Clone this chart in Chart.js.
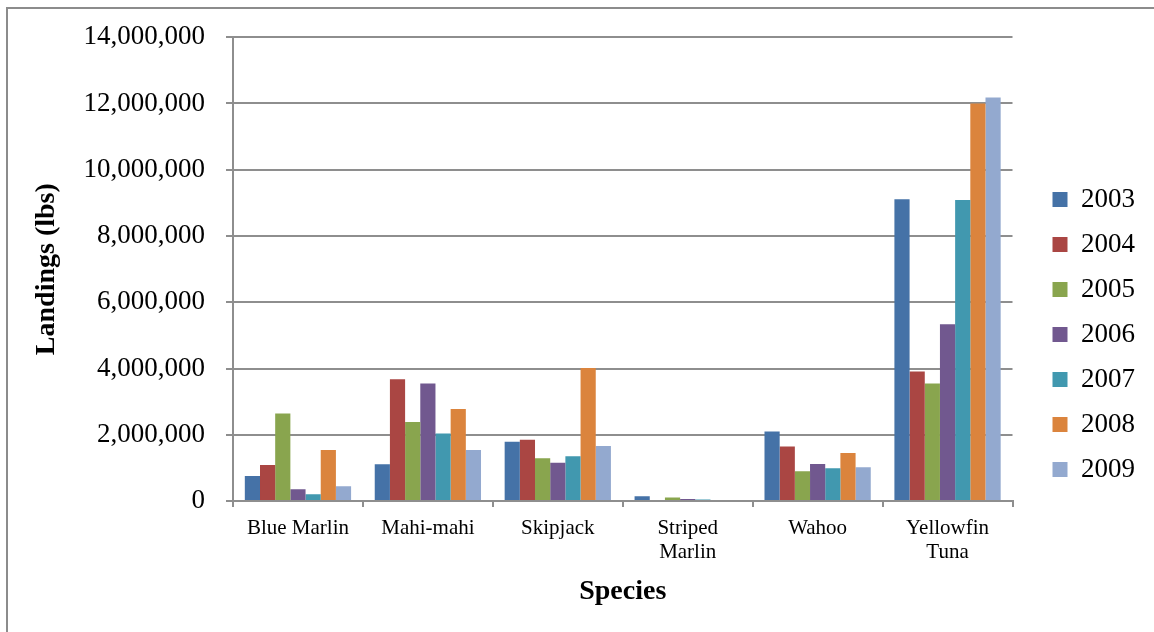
<!DOCTYPE html>
<html>
<head>
<meta charset="utf-8">
<script src="https://cdn.jsdelivr.net/npm/chart.js@4.4.1/dist/chart.umd.min.js"></script>
<style>
  html, body { margin: 0; padding: 0; background: #ffffff; }
  #wrap { width: 1154px; height: 632px; position: relative; }
</style>
</head>
<body>
<div id="wrap"><canvas id="c" width="1154" height="632"></canvas></div>
<script>
// ---- data ----
const species = ['Blue Marlin', 'Mahi-mahi', 'Skipjack', ['Striped', 'Marlin'], 'Wahoo', ['Yellowfin', 'Tuna']];
const years = ['2003', '2004', '2005', '2006', '2007', '2008', '2009'];
const y2003 = [760000, 1110000, 1790000, 150000, 2100000, 9110000];
const y2004 = [1090000, 3680000, 1850000, 30000, 1650000, 3910000];
const y2005 = [2640000, 2390000, 1290000, 110000, 900000, 3550000];
const y2006 = [360000, 3550000, 1160000, 60000, 1120000, 5340000];
const y2007 = [210000, 2040000, 1350000, 50000, 990000, 9090000];
const y2008 = [1540000, 2780000, 4020000, 0, 1450000, 12000000];
const y2009 = [450000, 1540000, 1660000, 0, 1020000, 12180000];
const yTicks = [0, 2000000, 4000000, 6000000, 8000000, 10000000, 12000000, 14000000];
const xTitle = 'Species';
const yTitle = 'Landings (lbs)';

const seriesValues = [y2003, y2004, y2005, y2006, y2007, y2008, y2009];
const colors = ['#4572A7', '#AA4643', '#89A54E', '#71588F', '#4198AF', '#DB843D', '#93A9CF'];

const FONT = "'Liberation Serif', 'Times New Roman', serif";
const GRID = '#8e8e8e';

const frame = {
  id: 'frame',
  beforeDraw(chart) {
    const ctx = chart.ctx;
    ctx.save();
    ctx.fillStyle = '#ffffff';
    ctx.fillRect(0, 0, chart.width, chart.height);
    ctx.strokeStyle = '#8c8c8c';
    ctx.lineWidth = 2;
    ctx.beginPath();
    ctx.moveTo(7, chart.height);
    ctx.lineTo(7, 8);
    ctx.lineTo(chart.width, 8);
    ctx.stroke();
    ctx.restore();
  }
};

new Chart(document.getElementById('c'), {
  type: 'bar',
  data: {
    labels: species,
    datasets: years.map((y, i) => ({
      label: y,
      data: seriesValues[i],
      backgroundColor: colors[i],
      borderWidth: 0,
      categoryPercentage: 0.818,
      barPercentage: 1.0
    }))
  },
  options: {
    responsive: false,
    animation: false,
    devicePixelRatio: 1,
    layout: { padding: { left: 30, top: 37, right: 9, bottom: 23 } },
    plugins: {
      legend: {
        position: 'right',
        align: 'end',
        fullSize: false,
        labels: {
          boxWidth: 15,
          boxHeight: 15,
          padding: 18,
          color: '#000',
          font: { family: FONT, size: 27 }
        }
      },
      tooltip: { enabled: false }
    },
    scales: {
      x: {
        grid: {
          display: true,
          drawOnChartArea: false,
          drawTicks: true,
          tickLength: 6,
          color: GRID,
          lineWidth: 2,
          offset: true
        },
        border: { display: true, color: GRID, width: 2 },
        ticks: {
          color: '#000',
          font: { family: FONT, size: 21, lineHeight: 1.15 },
          padding: 9,
          maxRotation: 0,
          minRotation: 0,
          autoSkip: false
        },
        title: {
          display: true,
          text: xTitle,
          color: '#000',
          font: { family: FONT, size: 28, weight: 'bold' },
          padding: { top: 2, bottom: 0 }
        }
      },
      y: {
        min: 0,
        max: 14000000,
        afterBuildTicks(scale) { scale.ticks = yTicks.map(v => ({ value: v })); },
        afterFit(scale) { scale.width = 203; },
        grid: {
          color: GRID,
          lineWidth: 2,
          drawTicks: true,
          tickLength: 7
        },
        border: { display: true, color: GRID, width: 2 },
        ticks: {
          color: '#000',
          font: { family: FONT, size: 27 },
          padding: 21,
          callback: v => Number(v).toLocaleString('en-US')
        },
        title: {
          display: true,
          text: yTitle,
          color: '#000',
          font: { family: FONT, size: 28, weight: 'bold' },
          padding: { top: 0, bottom: 24 }
        }
      },
      gap: {
        type: 'linear',
        position: 'right',
        display: true,
        grid: { display: false, drawTicks: false },
        border: { display: false },
        ticks: { display: false },
        afterFit(scale) { scale.width = 22; }
      }
    }
  },
  plugins: [frame]
});
</script>
</body>
</html>
